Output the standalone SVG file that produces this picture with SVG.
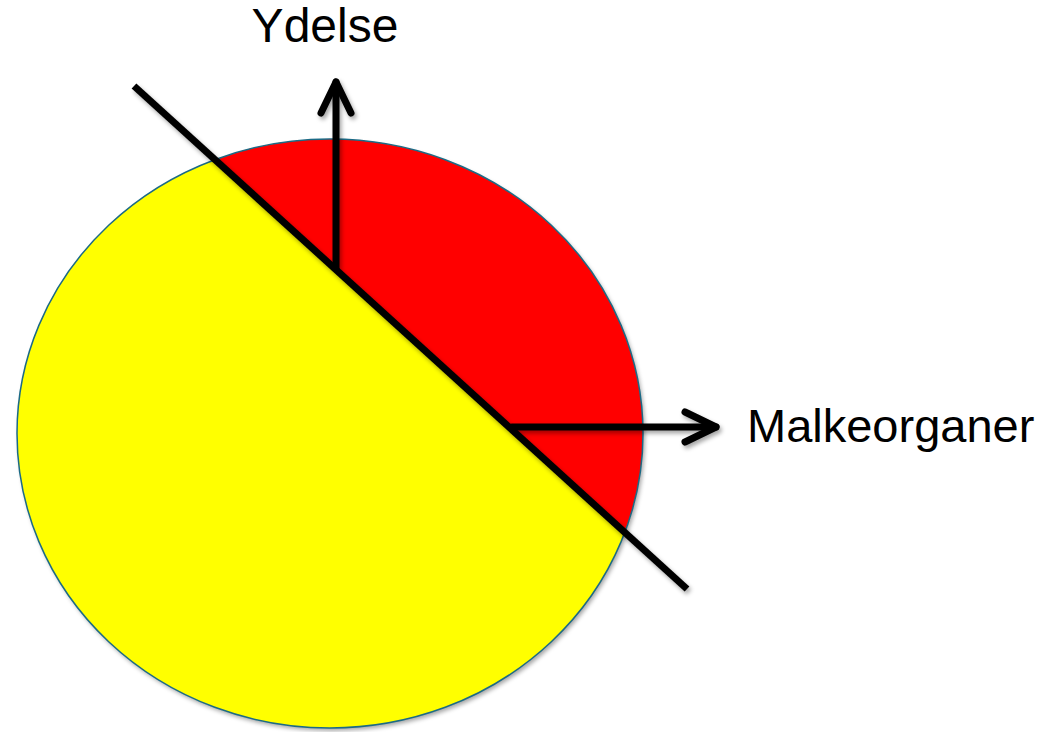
<svg xmlns="http://www.w3.org/2000/svg" width="1046" height="732" viewBox="0 0 1046 732">
  <style>
    .lbl { font-family: "Liberation Sans", Arial, sans-serif; fill: #000; }
    .conn { stroke: #000; stroke-width: 7; fill: none; stroke-linecap: round; stroke-linejoin: round; }
  </style>
  <defs>
    <filter id="shadow" x="-10%" y="-10%" width="120%" height="120%">
      <feDropShadow dx="2" dy="3" stdDeviation="2" flood-color="#000" flood-opacity="0.35"/>
    </filter>
    <clipPath id="redSide">
      <polygon points="-100,-127 800,692 1046,692 1046,-127"/>
    </clipPath>
    <marker id="chev" markerUnits="userSpaceOnUse" viewBox="-40 -24 48 48" refX="0" refY="0" markerWidth="48" markerHeight="48" orient="auto">
      <polyline points="-31,-15 0,0 -31,15" fill="none" stroke="#000" stroke-width="7" stroke-linecap="round" stroke-linejoin="round"/>
    </marker>
  </defs>
  <rect width="1046" height="732" fill="#fff"/>
  <g id="disc">
    <ellipse cx="330" cy="433.5" rx="313" ry="294.5" fill="#FFFF00" filter="url(#shadow)"/>
    <ellipse cx="330" cy="433.5" rx="313" ry="294.5" fill="#FF0000" clip-path="url(#redSide)"/>
    <ellipse cx="330" cy="433.5" rx="313" ry="294.5" fill="none" stroke="#1B6A86" stroke-width="1.5"/>
  </g>
  <g id="connectors" filter="url(#shadow)">
    <line class="conn" x1="134" y1="86" x2="687" y2="589" style="stroke-linecap:butt"/>
    <line class="conn" x1="336" y1="268" x2="336" y2="82" marker-end="url(#chev)"/>
    <line class="conn" x1="512" y1="427" x2="716" y2="427" marker-end="url(#chev)"/>
  </g>
  <g id="label-ydelse">
    <text class="lbl" x="325" y="42" font-size="48" text-anchor="middle">Ydelse</text>
  </g>
  <g id="label-malkeorganer">
    <text class="lbl" x="747" y="442" font-size="47">Malkeorganer</text>
  </g>
</svg>
